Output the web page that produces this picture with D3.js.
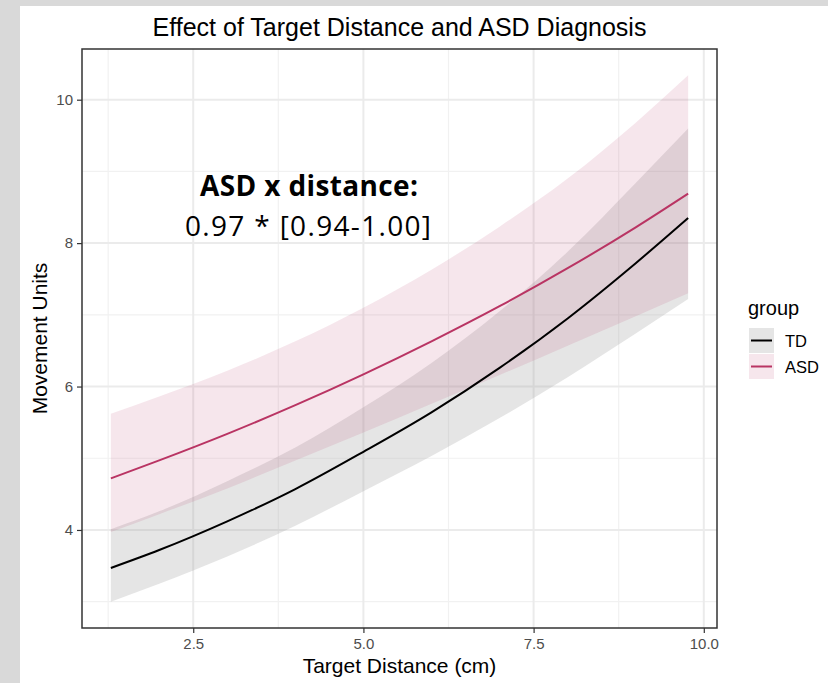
<!DOCTYPE html>
<html>
<head>
<meta charset="utf-8">
<script src="https://cdn.jsdelivr.net/npm/d3@7"></script>
<style>
  body { margin: 0; background: #d9d9d9; }
  svg { display: block; }
  text { font-family: "Liberation Sans", Arial, sans-serif; }
</style>
</head>
<body>
<svg id="chart" width="828" height="683"></svg>
<script>
// target distance (cm) where the curves were read
const distance = [1.29, 2, 3, 4, 5, 6, 7, 8, 9, 9.77];
// TD fit and 95% band
const tdFit = [3.47, 3.72, 4.12, 4.57, 5.09, 5.64, 6.26, 6.95, 7.72, 8.35];
const tdLow = [3.0, 3.25, 3.63, 4.06, 4.54, 5.03, 5.56, 6.13, 6.74, 7.22];
const tdHigh = [4.01, 4.26, 4.68, 5.15, 5.71, 6.33, 7.05, 7.88, 8.84, 9.6];
// ASD fit and 95% band
const asdFit = [4.72, 4.97, 5.34, 5.74, 6.17, 6.63, 7.12, 7.65, 8.22, 8.69];
const asdLow = [3.97, 4.22, 4.58, 4.97, 5.36, 5.76, 6.16, 6.57, 6.98, 7.3];
const asdHigh = [5.62, 5.86, 6.22, 6.63, 7.1, 7.63, 8.23, 8.9, 9.68, 10.34];

const groups = ["TD", "ASD"];
const xTicks = [2.5, 5.0, 7.5, 10.0];
const yTicks = [4, 6, 8, 10];
const xMinor = [1.25, 3.75, 6.25, 8.75];
const yMinor = [3, 5, 7, 9];

const lineColor = { TD: "#000000", ASD: "#b93463" };
const bandColor = { TD: "rgba(153,153,153,0.25)", ASD: "rgba(185,52,99,0.12)" };

const series = [
  { group: "TD", fit: tdFit, low: tdLow, high: tdHigh },
  { group: "ASD", fit: asdFit, low: asdLow, high: asdHigh },
].map((s) => ({
  group: s.group,
  rows: distance.map((d, i) => ({ x: d, y: s.fit[i], lo: s.low[i], hi: s.high[i] })),
}));

const svg = d3.select("#chart");
const panel = { left: 82, right: 717, top: 49, bottom: 628 };

// white slide area
svg.append("rect").attr("x", 20).attr("y", 6).attr("width", 808).attr("height", 677).attr("fill", "#fff");

// ggplot style 5% expansion
const expand = (ext) => {
  const pad = (ext[1] - ext[0]) * 0.05;
  return [ext[0] - pad, ext[1] + pad];
};
const x = d3.scaleLinear()
  .domain(expand(d3.extent(distance)))
  .range([panel.left, panel.right]);
const y = d3.scaleLinear()
  .domain(expand([d3.min(tdLow.concat(asdLow)), d3.max(tdHigh.concat(asdHigh))]))
  .range([panel.bottom, panel.top]);

// grid
const grid = svg.append("g");
grid.selectAll(".xminor").data(xMinor).enter().append("line")
  .attr("x1", (d) => x(d)).attr("x2", (d) => x(d))
  .attr("y1", panel.top).attr("y2", panel.bottom)
  .attr("stroke", "#f1f1f1").attr("stroke-width", 1.2);
grid.selectAll(".yminor").data(yMinor).enter().append("line")
  .attr("y1", (d) => y(d)).attr("y2", (d) => y(d))
  .attr("x1", panel.left).attr("x2", panel.right)
  .attr("stroke", "#f1f1f1").attr("stroke-width", 1.2);
grid.selectAll(".xmajor").data(xTicks).enter().append("line")
  .attr("x1", (d) => x(d)).attr("x2", (d) => x(d))
  .attr("y1", panel.top).attr("y2", panel.bottom)
  .attr("stroke", "#ebebeb").attr("stroke-width", 2);
grid.selectAll(".ymajor").data(yTicks).enter().append("line")
  .attr("y1", (d) => y(d)).attr("y2", (d) => y(d))
  .attr("x1", panel.left).attr("x2", panel.right)
  .attr("stroke", "#ebebeb").attr("stroke-width", 2);

// bands then lines
const area = d3.area()
  .x((d) => x(d.x)).y0((d) => y(d.lo)).y1((d) => y(d.hi))
  .curve(d3.curveMonotoneX);
const line = d3.line()
  .x((d) => x(d.x)).y((d) => y(d.y))
  .curve(d3.curveMonotoneX);

svg.selectAll(".band").data(series).enter().append("path")
  .attr("d", (d) => area(d.rows))
  .attr("fill", (d) => bandColor[d.group]);
svg.selectAll(".fit").data(series).enter().append("path")
  .attr("d", (d) => line(d.rows))
  .attr("fill", "none")
  .attr("stroke", (d) => lineColor[d.group])
  .attr("stroke-width", 2);

// panel border
svg.append("rect")
  .attr("x", panel.left).attr("y", panel.top)
  .attr("width", panel.right - panel.left).attr("height", panel.bottom - panel.top)
  .attr("fill", "none").attr("stroke", "#333").attr("stroke-width", 1.5);

// axes
const xAxis = svg.append("g")
  .attr("transform", "translate(0," + panel.bottom + ")")
  .call(d3.axisBottom(x).tickValues(xTicks).tickFormat(d3.format(".1f")).tickSizeOuter(0).tickSize(5).tickPadding(5));
const yAxis = svg.append("g")
  .attr("transform", "translate(" + panel.left + ",0)")
  .call(d3.axisLeft(y).tickValues(yTicks).tickSizeOuter(0).tickSize(5).tickPadding(4));
[xAxis, yAxis].forEach((a) => {
  a.select(".domain").remove();
  a.selectAll(".tick line").attr("stroke", "#333").attr("stroke-width", 1.2);
  a.selectAll(".tick text").attr("fill", "#4d4d4d").style("font-size", "15px")
    .style("font-family", "'Liberation Sans', Arial, sans-serif");
});

// titles
svg.append("text")
  .attr("x", (panel.left + panel.right) / 2).attr("y", 36)
  .attr("text-anchor", "middle")
  .style("font-size", "25px")
  .text("Effect of Target Distance and ASD Diagnosis");
svg.append("text")
  .attr("x", (panel.left + panel.right) / 2).attr("y", 673)
  .attr("text-anchor", "middle")
  .style("font-size", "21px")
  .text("Target Distance (cm)");
svg.append("text")
  .attr("transform", "translate(47," + (panel.top + panel.bottom) / 2 + ") rotate(-90)")
  .attr("text-anchor", "middle")
  .style("font-size", "21px")
  .text("Movement Units");

// annotation
const note = svg.append("text")
  .attr("x", 308).attr("text-anchor", "middle")
  .style("font-family", "'Open Sans', Lato, sans-serif")
  .style("font-size", "28px");
note.append("tspan").attr("x", 309).attr("y", 196).style("font-weight", "bold")
  .attr("textLength", 218).attr("lengthAdjust", "spacing").text("ASD x distance:");
note.append("tspan").attr("x", 308).attr("y", 236)
  .attr("textLength", 246).attr("lengthAdjust", "spacing").text("0.97 * [0.94-1.00]");

// legend
const legend = svg.append("g").attr("transform", "translate(748,0)");
legend.append("text").attr("x", 0).attr("y", 315).style("font-size", "20px").text("group");
const keys = legend.selectAll(".key").data(groups).enter().append("g")
  .attr("transform", (d, i) => "translate(1," + (328 + i * 26) + ")");
keys.append("rect").attr("width", 25).attr("height", 25).attr("fill", (d) => bandColor[d]);
keys.append("line").attr("x1", 2).attr("x2", 23).attr("y1", 12.5).attr("y2", 12.5)
  .attr("stroke", (d) => lineColor[d]).attr("stroke-width", 2);
keys.append("text").attr("x", 36).attr("y", 18.5).style("font-size", "16.5px").text((d) => d);
</script>
</body>
</html>
